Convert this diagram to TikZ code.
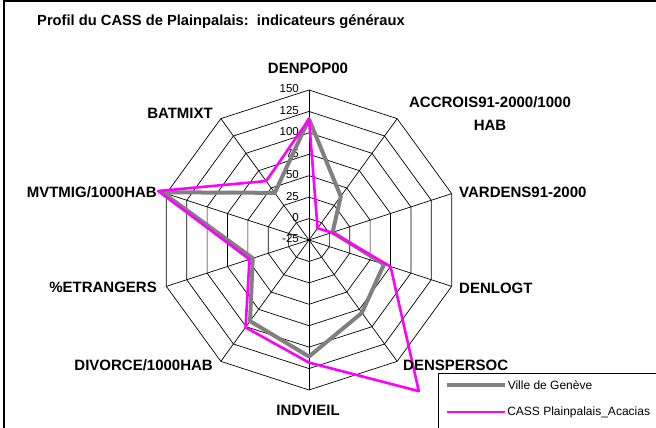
\documentclass[tikz,border=0pt]{standalone}
\usepackage{fontspec}
\setmainfont{Liberation Sans}
\usepackage{tikz}

\definecolor{villegray}{RGB}{128,128,128}
\definecolor{cassmagenta}{RGB}{255,0,255}

\tikzset{
	axislabel/.style = {font=\fontsize{15}{23}\selectfont\bfseries, inner sep=0pt},
	ticklabel/.style = {font=\fontsize{11.5}{13}\selectfont, inner sep=0pt, anchor=east},
	gridline/.style = {black, line width=0.7pt},
	ville/.style = {villegray, line width=4pt, line join=round},
	cass/.style = {cassmagenta, line width=2.6pt, line join=round},
	legendtext/.style = {font=\fontsize{12}{14}\selectfont, inner sep=1pt, anchor=west, text=black}
}

\begin{document}
\begin{tikzpicture}[x=1pt, y=1pt]
	\useasboundingbox (0,0) rectangle (656,428);
	\draw [line width=1.2pt] (4,0) -- (4,427) -- (656,427);
	\node [font=\fontsize{14.7}{17}\selectfont\bfseries, inner sep=0pt, anchor=west] (title) at (37,406) {Profil du CASS de Plainpalais:~~indicateurs généraux};

	\begin{scope}[shift={(309,188)}]
		\foreach \k in {1,...,7}
			\draw [gridline] (90:{\k*150/7}) \foreach \a in {54,18,...,-234} { -- (\a:{\k*150/7}) } -- cycle;
		\foreach \a in {90,54,...,-234}
			\draw [gridline] (0,0) -- (\a:150);
		\foreach \v [count=\k from 0] in {-25,0,25,50,75,100,125,150}
			\node [ticklabel] (tick\k) at (-10,{\k*150/7+1}) {\v};

		\foreach \v [count=\i] in {116,38,4,67,80,111,92,44,155,43}
			\coordinate (ville\i) at ({126-36*\i}:{(\v+25)*6/7});
		\foreach \v [count=\i] in {116,-8,3,75,193,118,101,48,160,60}
			\coordinate (cass\i) at ({126-36*\i}:{(\v+25)*6/7});
		\draw [ville] (ville1) -- (ville2) -- (ville3) -- (ville4) -- (ville5) -- (ville6) -- (ville7) -- (ville8) -- (ville9) -- (ville10) -- cycle;
		\draw [cass] (cass1) -- (cass2) -- (cass3) -- (cass4) -- (cass5) -- (cass6) -- (cass7) -- (cass8) -- (cass9) -- (cass10) -- cycle;
	\end{scope}

	\node [axislabel] (denpop) at (308,360) {DENPOP00};
	\node [axislabel, align=center] (accrois) at (490,314.5) {ACCROIS91-2000/1000\\HAB};
	\node [axislabel, anchor=west] (vardens) at (459,236) {VARDENS91-2000};
	\node [axislabel, anchor=west] (denlogt) at (459,140) {DENLOGT};
	\node [axislabel, anchor=west] (denspersoc) at (403,63) {DENSPERSOC};
	\node [axislabel] (indvieil) at (308,18) {INDVIEIL};
	\node [axislabel, anchor=east] (divorce) at (213,63) {DIVORCE/1000HAB};
	\node [axislabel, anchor=east] (etrangers) at (157,141) {\%ETRANGERS};
	\node [axislabel, anchor=east] (mvtmig) at (157,236) {MVTMIG/1000HAB};
	\node [axislabel, anchor=east] (batmixt) at (213,315) {BATMIXT};

	\draw [line width=1pt] (438,0) -- (438,54) -- (656,54);
	\coordinate (legvillea) at (447,43);
	\coordinate (legvilleb) at (505,43);
	\coordinate (legcassa) at (447,16);
	\coordinate (legcassb) at (505,16);
	\draw [ville, line width=3.5pt] (legvillea) -- (legvilleb) node [legendtext] (legville) {Ville de Genève};
	\draw [cass] (legcassa) -- (legcassb) node [legendtext] (legcass) {CASS Plainpalais\_Acacias};
\end{tikzpicture}
\end{document}
